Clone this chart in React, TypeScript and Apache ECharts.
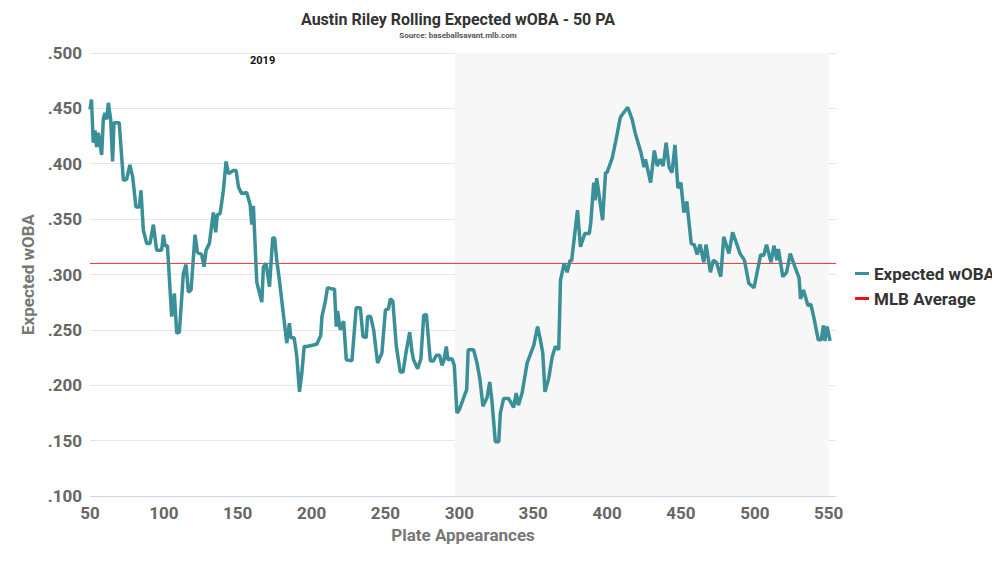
import React, { useEffect, useRef } from "react";
import * as echarts from "echarts";

const paX = [50,51,52.2,53.4,54.5,55.6,57.9,59,60.1,61.3,62.4,64,65.3,66.2,69.8,72.6,74.8,77,78.9,81.1,83.4,84.5,86.1,88.4,90.6,92.9,95.1,98.5,99.7,100.8,102.4,105.3,107.1,108.7,110.5,113.2,115,116.6,118.4,121.1,122.7,125.6,127.2,128.6,130.8,133.5,135.1,136.2,138.1,140.3,142.1,143.7,147.1,148.9,150.5,152.7,156.1,158.4,159.5,160.6,162.9,166.3,167.4,169.2,171.5,173.7,175,176.4,178.2,183.2,185,185.9,188.2,190,191.8,193.4,195,196.8,203.5,206.2,207,209.2,210.8,213.8,215.5,216.7,217.6,219.4,221.7,223.5,227.3,230.2,233,234.8,237,237.9,240,242,244.7,247.6,250,252,253.3,255,257.3,260,261.9,264,266.4,268,269,271.8,274,275.9,277.7,280.4,282.5,284.4,286.7,288.3,289.5,291.2,292.3,295,296.6,298.4,300,305,306,309.7,312,314,316,318.8,320.6,322,324.4,326.7,327.8,330,333.4,336.8,338.5,340,342.5,345.9,350.4,353,354.9,356.5,358,360.5,362.8,365,367.3,368.5,371,373,375,376,380,382,385,388,389,391,392,393,397,399,400,403.5,406,409,414,417,419,423,425,426,429.5,432,434,436,438,440,442,444,446,448,450,452,454,457,459,461,463,465.5,467,470,472,474,477,479,482.5,485,488,490,493,496,499.5,504,506,508,511,513,515,516,519,521.6,524,527.7,530,531,533,536,538,540,543,545,546.5,547.5,549,551];
const xwoba = [.449,.458,.419,.430,.415,.428,.408,.440,.446,.440,.455,.440,.402,.437,.437,.385,.386,.399,.388,.361,.361,.376,.340,.328,.328,.345,.322,.322,.336,.326,.326,.262,.283,.247,.248,.301,.309,.284,.286,.336,.320,.318,.307,.322,.328,.356,.338,.354,.355,.376,.402,.391,.394,.394,.379,.373,.374,.363,.345,.362,.293,.275,.307,.310,.289,.333,.333,.313,.295,.238,.256,.243,.243,.226,.194,.211,.235,.235,.237,.245,.262,.275,.288,.287,.287,.253,.267,.250,.258,.223,.222,.270,.270,.244,.243,.262,.262,.250,.220,.229,.268,.269,.278,.276,.236,.212,.212,.230,.248,.230,.223,.215,.224,.263,.264,.222,.222,.227,.227,.218,.222,.235,.223,.224,.218,.175,.178,.196,.232,.232,.220,.205,.181,.189,.203,.187,.149,.149,.175,.188,.188,.180,.193,.182,.193,.220,.236,.253,.241,.229,.194,.206,.225,.235,.232,.295,.310,.302,.313,.312,.358,.325,.337,.337,.347,.383,.367,.387,.349,.392,.392,.405,.421,.442,.451,.440,.428,.410,.397,.404,.383,.412,.398,.404,.398,.419,.397,.392,.417,.378,.383,.356,.366,.328,.327,.318,.327,.311,.327,.302,.313,.311,.298,.334,.319,.338,.327,.319,.313,.292,.288,.318,.317,.327,.311,.326,.313,.323,.298,.302,.319,.305,.297,.278,.286,.272,.273,.261,.241,.241,.254,.240,.253,.240,.235];
const mlbAverage = 0.31;
const season2020Start = 297;
const season2020End = 550;
const xTicks = [50, 100, 150, 200, 250, 300, 350, 400, 450, 500, 550];

export default function App() {
  const ref = useRef<HTMLDivElement>(null);
  useEffect(() => {
    const chart = echarts.init(ref.current!, null, { renderer: "svg" });
    const font = "Roboto";
    chart.setOption({
      animation: false,
      textStyle: { fontFamily: font },
      title: {
        text: "Austin Riley Rolling Expected wOBA - 50 PA",
        subtext: "Source: baseballsavant.mlb.com",
        left: 453, top: 6, textAlign: "center", itemGap: 4,
        textStyle: { fontSize: 16, fontWeight: "bold", color: "#333", fontFamily: font },
        subtextStyle: { fontSize: 8, fontWeight: "bold", color: "#555", fontFamily: font },
      },
      legend: {
        orient: "vertical", left: 850, top: 260, itemGap: 8,
        itemWidth: 14, itemHeight: 3, icon: "rect",
        textStyle: { fontSize: 17, fontWeight: "bold", color: "#333", fontFamily: font },
        data: ["Expected wOBA", "MLB Average"],
      },
      grid: { left: 90, right: 164, top: 53, bottom: 67 },
      xAxis: {
        type: "value", min: 50, max: 555, interval: 50,
        name: "Plate Appearances", nameLocation: "middle", nameGap: 30,
        nameTextStyle: { fontSize: 17, fontWeight: "bold", color: "#777" },
        axisLine: { lineStyle: { color: "#ccd6eb" } },
        axisTick: { show: false },
        splitLine: { show: false },
        axisLabel: { fontSize: 17, fontWeight: "bold", color: "#666",
          formatter: (v: number) => (xTicks.includes(v) ? String(v) : "") },
      },
      yAxis: {
        type: "value", min: 0.1, max: 0.5, interval: 0.05,
        name: "Expected wOBA", nameLocation: "middle", nameGap: 52,
        nameTextStyle: { fontSize: 17, fontWeight: "bold", color: "#777" },
        axisLine: { show: false }, axisTick: { show: false },
        splitLine: { lineStyle: { color: "#e6e6e6" } },
        axisLabel: { fontSize: 17, fontWeight: "bold", color: "#666",
          formatter: (v: number) => v.toFixed(3).replace(/^0/, "") },
      },
      graphic: [
        { type: "text", left: 250, top: 55, style: { text: "2019", fontSize: 11, fontWeight: "bold", fill: "#111", fontFamily: font } },
        { type: "text", left: 620, top: 55, style: { text: "2020", fontSize: 11, fontWeight: "bold", fill: "#111", fontFamily: font } },
      ],
      series: [
        {
          name: "Expected wOBA", type: "line", showSymbol: false, symbol: "none",
          color: "#3a8f98", lineStyle: { width: 3.5, color: "#3a8f98" },
          data: paX.map((x, i) => [x, xwoba[i]]),
          z: 3,
          markArea: {
            silent: true,
            itemStyle: { color: "#f7f7f7" },
            data: [[{ xAxis: season2020Start }, { xAxis: season2020End }]],
          },
        },
        {
          name: "MLB Average", type: "line", showSymbol: false, symbol: "none",
          color: "#ee1111", lineStyle: { width: 1, color: "#e33" },
          data: [[50, mlbAverage], [555, mlbAverage]], z: 2,
        },
      ],
    });
    return () => chart.dispose();
  }, []);
  return <div ref={ref} style={{ width: 1000, height: 563, margin: -8 }} />;
}
